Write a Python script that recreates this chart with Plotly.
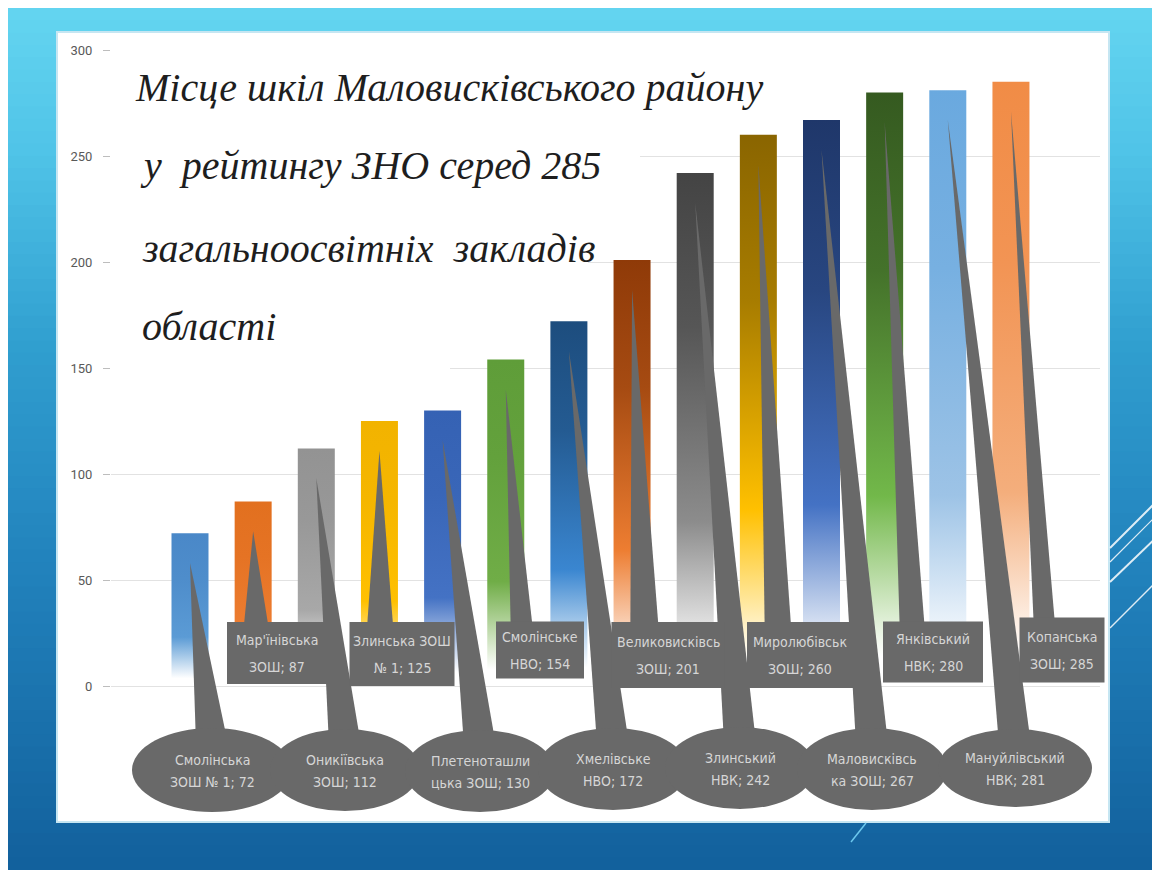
import plotly.graph_objects as go

# ---------------- data ----------------
schools_top = ["Смолінська", "Мар'їнівська", "Оникіївська", "Злинська ЗОШ", "Плетеноташли",
               "Смолінське", "Хмелівське", "Великовисківсь", "Злинський", "Миролюбівськ",
               "Маловисківсь", "Янківський", "Мануйлівський", "Копанська"]
schools_bottom = ["ЗОШ № 1", "ЗОШ", "ЗОШ", "№ 1", "цька ЗОШ", "НВО", "НВО", "ЗОШ",
                  "НВК", "ЗОШ", "ка ЗОШ", "НВК", "НВК", "ЗОШ"]
ranks = [72, 87, 112, 125, 130, 154, 172, 201, 242, 260, 267, 280, 281, 285]
y_ticks = [0, 50, 100, 150, 200, 250, 300]
title_lines = ["Місце шкіл Маловисківського району",
               "у  рейтингу ЗНО серед 285",
               "загальноосвітніх  закладів",
               "області"]

# ---------------- styles ----------------
bar_top_colors = ["#4a88c8", "#e2701f", "#939393", "#f2b300", "#3562b4", "#5f9d39", "#1d4d7e",
                  "#8f3a08", "#444444", "#8a6500", "#1f376a", "#355a20", "#6aa9df", "#f18c46"]
bar_mid_colors = ["#5b9bd5", "#ed7d31", "#a8a8a8", "#ffc000", "#4472c4", "#70ad47", "#3a86d0",
                  "#ed7d31", "#8c8c8c", "#ffc000", "#4472c4", "#72b84a", "#9dc3e6", "#f4ae7c"]
GRAY = "#696969"
TEXT_GRAY = "#d6d6d6"

# layout geometry (screen px)
X0_PX, DX_PX = 190.0, 63.15
Y0_PX, DY_PX = 686.0, 2.12
PLOT_L, PLOT_R, PLOT_T, PLOT_B = 111, 1100, 40, 822
SCREEN_W, SCREEN_H = 1160, 870
BODY = 8
BAR_W = 0.586
TIP_OFF = 14

callout_cx = [212, 277, 345, 402, 480, 540, 613, 668, 740, 800, 872, 933, 1015, 1062]
callout_cy = [770, 653, 770, 654, 771, 650, 769, 655, 768, 655, 769, 652, 768, 650]
callout_w = [160, 100, 150, 105, 150, 88, 150, 113, 150, 106, 150, 100, 154, 85]
callout_h = [84, 62, 82, 64, 82, 57, 82, 66, 82, 66, 82, 61, 78, 65]

title_x = [133, 138, 140, 140]
title_y = [88, 165, 248, 326]


def dx(px):
    return (px - X0_PX) / DX_PX


def dy(py):
    return (Y0_PX - py) / DY_PX


def paper_x(px):
    return (px - PLOT_L) / (PLOT_R - PLOT_L)


def paper_y(py):
    return (PLOT_B - py) / (PLOT_B - PLOT_T)


def hex2rgb(h):
    h = h.lstrip("#")
    return tuple(int(h[i:i + 2], 16) for i in (0, 2, 4))


def mix(c1, c2, t):
    a, b = hex2rgb(c1), hex2rgb(c2)
    return "rgb(%d,%d,%d)" % tuple(round(a[k] + (b[k] - a[k]) * t) for k in range(3))


fig = go.Figure()

# ---------------- bars (gradient filled) ----------------
for i, v in enumerate(ranks):
    hw = BAR_W / 2
    top, mid = bar_top_colors[i], bar_mid_colors[i]
    cs = [[0, "#ffffff"], [0.05, "#ffffff"], [0.17, mix(mid, "#ffffff", 0.55)],
          [0.32, mid], [0.7, mix(mid, top, 0.75)], [1, top]]
    fig.add_trace(go.Scatter(
        x=[i - hw, i + hw, i + hw, i - hw, i - hw],
        y=[0, 0, v, v, 0],
        mode="lines", line=dict(width=0), fill="toself",
        fillgradient=dict(type="vertical", colorscale=cs, start=0, stop=v),
        hoverinfo="skip", showlegend=False))

shapes = []
# background gradient bands
stops = [(8, "#64d5f0"), (150, "#50c4e8"), (350, "#309ecf"), (560, "#2283bd"), (870, "#12609c")]
N = 70
for k in range(N):
    y0 = 8 + (SCREEN_H - 8) * k / N
    y1 = 8 + (SCREEN_H - 8) * (k + 1) / N + 0.8
    ym = (y0 + y1) / 2
    for j in range(len(stops) - 1):
        if stops[j][0] <= ym <= stops[j + 1][0]:
            t = (ym - stops[j][0]) / (stops[j + 1][0] - stops[j][0])
            col = mix(stops[j][1], stops[j + 1][1], t)
            break
    shapes.append(dict(type="rect", xref="paper", yref="paper", layer="below",
                       x0=paper_x(BODY - 1), x1=paper_x(SCREEN_W + 2),
                       y0=paper_y(y1), y1=paper_y(y0),
                       fillcolor=col, line=dict(width=0)))
# white panel
shapes.append(dict(type="rect", xref="paper", yref="paper", layer="below",
                   x0=paper_x(57), x1=paper_x(1109), y0=paper_y(822), y1=paper_y(32),
                   fillcolor="#ffffff", line=dict(color="#c6e6f2", width=2)))
# decorative lines
for (xa, ya, xb, yb, w) in [(1110, 548, 1162, 496, 2), (1110, 562, 1162, 510, 1.2),
                            (1110, 582, 1162, 532, 2), (1110, 628, 1162, 576, 1.5)]:
    shapes.append(dict(type="line", xref="paper", yref="paper", layer="below",
                       x0=paper_x(xa), y0=paper_y(ya), x1=paper_x(xb), y1=paper_y(yb),
                       line=dict(color="rgba(255,255,255,0.85)", width=w)))
shapes.append(dict(type="line", xref="paper", yref="paper", layer="below",
                   x0=paper_x(851), y0=paper_y(842), x1=paper_x(866), y1=paper_y(823),
                   line=dict(color="#6cc8ee", width=1.5)))

# masks hiding gridlines behind the title
for val, right_px in [(300, PLOT_R), (250, 640), (200, 588), (150, 450)]:
    shapes.append(dict(type="rect", xref="x", yref="y", layer="between",
                       x0=dx(PLOT_L - 2), x1=dx(right_px), y0=val - 1.5, y1=val + 1.5,
                       fillcolor="#ffffff", line=dict(width=0)))

# callout wedges
for i, v in enumerate(ranks):
    cx, cy, w, h = callout_cx[i], callout_cy[i], callout_w[i], callout_h[i]
    if i % 2 == 0:
        by = cy - h / 2 + 16
        bx1, bx2 = cx - 16, cx + 16
    else:
        by = cy - h / 2 + 6
        left = cx - w / 2
        bx1, bx2 = left + w * 2 / 12, left + w * 5 / 12
    path = "M %f,%f L %f,%f L %f,%f Z" % (dx(bx1), dy(by), i, v - TIP_OFF, dx(bx2), dy(by))
    shapes.append(dict(type="path", xref="x", yref="y", layer="above", path=path,
                       fillcolor=GRAY, line=dict(width=0)))

# callout bodies
for i in range(len(ranks)):
    cx, cy, w, h = callout_cx[i], callout_cy[i], callout_w[i], callout_h[i]
    shapes.append(dict(type="circle" if i % 2 == 0 else "rect",
                       xref="paper", yref="paper", layer="above",
                       x0=paper_x(cx - w / 2), x1=paper_x(cx + w / 2),
                       y0=paper_y(cy + h / 2), y1=paper_y(cy - h / 2),
                       fillcolor=GRAY, line=dict(width=0)))

annotations = []
label_font = dict(family="Liberation Sans Narrow, DejaVu Sans Condensed, Roboto, sans-serif",
                  size=14, color=TEXT_GRAY)
for i, v in enumerate(ranks):
    cx, cy = callout_cx[i], callout_cy[i]
    up, down = (10, 12) if i % 2 == 0 else (13, 14)
    annotations.append(dict(xref="paper", yref="paper", x=paper_x(cx), y=paper_y(cy - up),
                            text=schools_top[i], showarrow=False, font=label_font,
                            xanchor="center", yanchor="middle"))
    annotations.append(dict(xref="paper", yref="paper", x=paper_x(cx), y=paper_y(cy + down),
                            text="%s; %d" % (schools_bottom[i], v), showarrow=False,
                            font=label_font, xanchor="center", yanchor="middle"))

for k, line in enumerate(title_lines):
    annotations.append(dict(xref="paper", yref="paper", x=paper_x(title_x[k]), y=paper_y(title_y[k]),
                            text="<i>%s</i>" % line, showarrow=False,
                            font=dict(family="Liberation Serif, DejaVu Serif, serif", size=40,
                                      color="#1e1e1e"),
                            xanchor="left", yanchor="middle"))

fig.update_layout(
    width=SCREEN_W - BODY, height=SCREEN_H - BODY,
    margin=dict(l=PLOT_L - BODY, r=SCREEN_W - PLOT_R, t=PLOT_T - BODY, b=SCREEN_H - PLOT_B),
    paper_bgcolor="#2a8fc5", plot_bgcolor="rgba(0,0,0,0)",
    showlegend=False, shapes=shapes, annotations=annotations,
    xaxis=dict(range=[dx(PLOT_L), dx(PLOT_R)], visible=False, fixedrange=True),
    yaxis=dict(range=[dy(PLOT_B), dy(PLOT_T)], tickvals=y_ticks, showgrid=True,
               gridcolor="#e2e2e2", gridwidth=1, zeroline=False, showline=False,
               ticks="outside", ticklen=7, tickcolor="#bdbdbd",
               tickfont=dict(family="Roboto, sans-serif", size=13, color="#595959"),
               ticklabelstandoff=8, fixedrange=True),
)

fig.write_html("out.html")
